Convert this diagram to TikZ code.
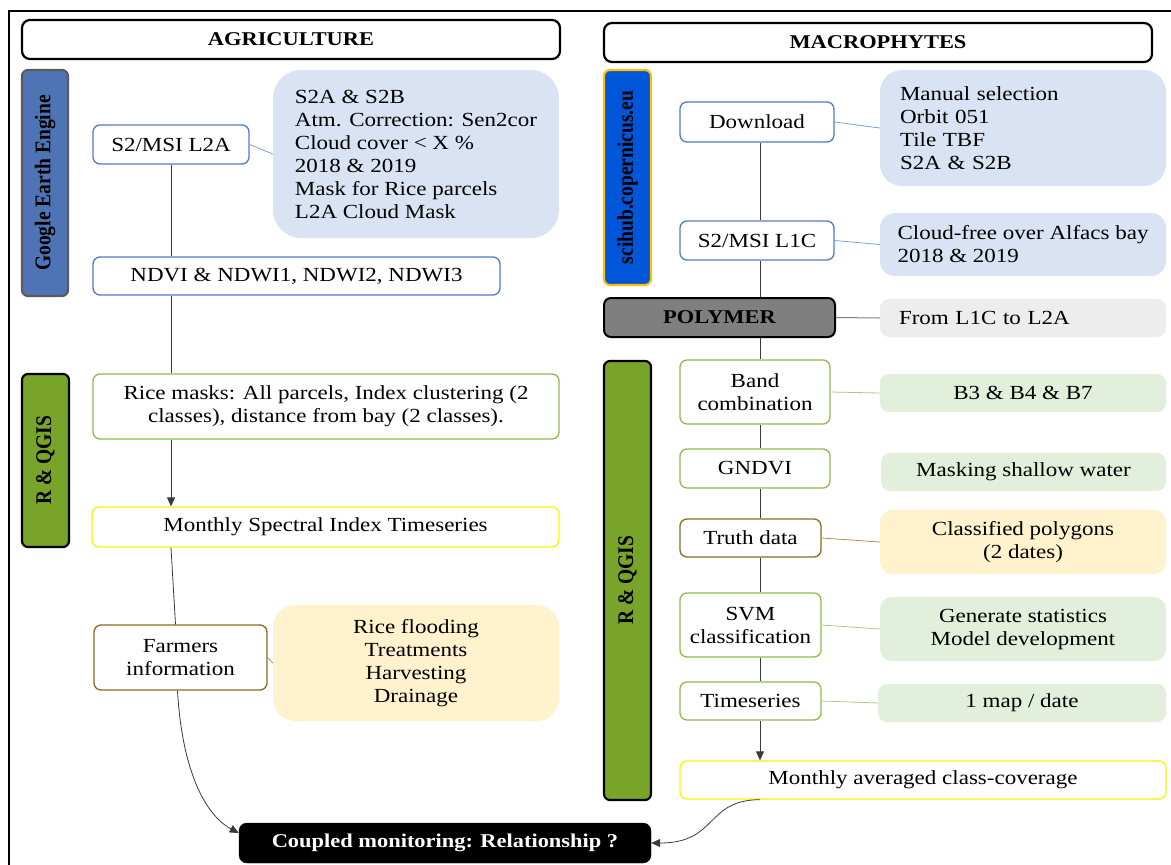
\documentclass[tikz,border=0pt]{standalone}
\usepackage{fontspec}
\setmainfont{Liberation Serif}[FakeStretch=1.15]
\newfontfamily\rotfont{Liberation Serif}
\usetikzlibrary{arrows.meta}
\definecolor{bbord}{HTML}{4F7BC8}
\definecolor{bfill}{HTML}{DAE3F3}
\definecolor{gbord}{HTML}{8DBB4C}
\definecolor{gfill}{HTML}{E2EFDA}
\definecolor{ybord}{HTML}{FFF200}
\definecolor{yfill}{HTML}{FFF2CC}
\definecolor{brbord}{HTML}{8C6A22}
\definecolor{grayfill}{HTML}{7F7F7F}
\definecolor{lgray}{HTML}{EDEDED}
\definecolor{geefill}{HTML}{4F74B6}
\definecolor{geebord}{HTML}{5A5A5A}
\definecolor{rqfill}{HTML}{79A42A}
\definecolor{scifill}{HTML}{0056D8}
\definecolor{scibord}{HTML}{FFC000}
\definecolor{linec}{HTML}{3A3A3A}
\definecolor{blink}{HTML}{7F9FD5}
\definecolor{glink}{HTML}{A9CC86}
\definecolor{brlink}{HTML}{B0924E}
\newcommand{\vstretch}[1]{\scalebox{1}[1.15]{#1}}
\begin{document}
\begin{tikzpicture}[x=1pt,y=-1pt,
  every node/.style={font=\fontsize{20}{23}\selectfont},
  box/.style={draw, rounded corners=7, fill=white, line width=1.3pt, inner sep=0pt, align=center},
  bluebox/.style={box, draw=bbord},
  greenbox/.style={box, draw=gbord},
  yelbox/.style={box, draw=ybord},
  brownbox/.style={box, draw=brbord},
  info/.style={rounded corners=12, inner sep=0pt, align=center},
  side/.style={rotate=90, rounded corners=6, line width=2.2pt, inner sep=0pt,
    font=\rotfont\fontsize{19.5}{22}\selectfont\bfseries},
  head/.style={draw=black, line width=2.2pt, rounded corners=8, inner sep=0pt,
    font=\fontsize{19.5}{22}\selectfont\bfseries},
  link/.style={line width=0.8pt, draw=linec},
  arr/.style={link, -{Triangle[width=8pt,length=9pt]}}
]
\useasboundingbox (0,0) rectangle (1171,865);
% frame
\draw[line width=1.5pt] (1171,11) -- (9,11) -- (9,865);

% headers
\node[head, minimum width=538, minimum height=39] (agri) at (291,39.5) {AGRICULTURE};
\node[head, minimum width=548, minimum height=39] (macro) at (878,42.5) {MACROPHYTES};

% sidebars
\node[side, draw=geebord, fill=geefill, minimum width=226, minimum height=46] (gee) at (45,183) {\vstretch{Google Earth Engine}};
\node[side, draw=black, fill=rqfill, minimum width=173, minimum height=47] (rq1) at (45.5,460.5) {\vstretch{R \& QGIS}};
\node[side, draw=scibord, fill=scifill, minimum width=215, minimum height=47] (sci) at (627.5,177.5) {\vstretch{scihub.copernicus.eu}};
\node[side, draw=black, fill=rqfill, minimum width=439, minimum height=47] (rq2) at (627.5,580.5) {\vstretch{R \& QGIS}};

% left column
\node[bluebox, minimum width=156, minimum height=39] (l2a) at (171,144.5) {S2/MSI L2A};
\node[info, fill=bfill, rounded corners=28, minimum width=286, minimum height=168,
  align=left] (info1) at (416,154)
  {S2A \& S2B\\Atm. Correction: Sen2cor\\Cloud cover < X \%\\2018 \& 2019\\Mask for Rice parcels\\L2A Cloud Mask};
\node[bluebox, minimum width=407, minimum height=38] (ndvi) at (296.5,276) {NDVI \& NDWI1, NDWI2, NDWI3};
\node[greenbox, minimum width=466, minimum height=65] (rice) at (326,406.5)
  {Rice masks: All parcels, Index clustering (2\\classes), distance from bay (2 classes).};
\node[yelbox, minimum width=467, minimum height=40] (mon1) at (325.5,527) {Monthly Spectral Index Timeseries};
\node[brownbox, minimum width=173, minimum height=65] (farm) at (180.5,657.5) {Farmers\\information};
\node[info, fill=yfill, rounded corners=22, minimum width=286, minimum height=116] (info2) at (416,663)
  {Rice flooding\\Treatments\\Harvesting\\Drainage};
\node[draw=black, fill=black, rounded corners=8, minimum width=412, minimum height=40, inner sep=0pt,
  text=white, font=\fontsize{19.5}{22}\selectfont\bfseries] (coupled) at (445,843)
  {Coupled monitoring: Relationship ?};

% right column
\node[bluebox, minimum width=154, minimum height=40] (down) at (757,122) {Download};
\node[info, fill=bfill, rounded corners=22, minimum width=286, minimum height=116,
  text width=246, inner xsep=20pt, align=left] (info3) at (1023,128)
  {Manual selection\\Orbit 051\\Tile TBF\\S2A \& S2B};
\node[bluebox, minimum width=154, minimum height=39] (l1c) at (757,240.5) {S2/MSI L1C};
\node[info, fill=bfill, rounded corners=15, minimum width=286, minimum height=63,
  align=left] (info4) at (1023,244.5)
  {Cloud-free over Alfacs bay\\2018 \& 2019};
\node[draw=black, fill=grayfill, line width=2pt, rounded corners=7, minimum width=231, minimum height=39,
  inner sep=0pt, font=\fontsize{19.5}{22}\selectfont\bfseries] (poly) at (719.5,317.5) {POLYMER};
\node[info, fill=lgray, rounded corners=9, minimum width=286, minimum height=38,
  text width=264, inner xsep=11pt, align=left] (info5) at (1023,318) {\hspace*{8pt}From L1C to L2A};
\node[greenbox, minimum width=150, minimum height=64] (band) at (755,392) {Band\\combination};
\node[info, fill=gfill, rounded corners=9, minimum width=286, minimum height=38] (info6) at (1023,393) {B3 \& B4 \& B7};
\node[greenbox, minimum width=150, minimum height=39] (gndvi) at (755,468.5) {GNDVI};
\node[info, fill=gfill, rounded corners=9, minimum width=285, minimum height=38] (info7) at (1023.5,472) {Masking shallow water};
\node[brownbox, minimum width=141, minimum height=38] (truth) at (750.5,538) {Truth data};
\node[info, fill=yfill, rounded corners=12, minimum width=286, minimum height=64] (info8) at (1023,542) {Classified polygons\\(2 dates)};
\node[greenbox, minimum width=141, minimum height=64] (svm) at (750.5,625) {SVM\\classification};
\node[info, fill=gfill, rounded corners=12, minimum width=286, minimum height=64] (info9) at (1023,629) {Generate statistics\\Model development};
\node[greenbox, minimum width=141, minimum height=38] (ts) at (750.5,701) {Timeseries};
\node[info, fill=gfill, rounded corners=9, minimum width=288, minimum height=38] (info10) at (1022,703) {1 map / date};
\node[yelbox, minimum width=486, minimum height=38] (mon2) at (923,780) {Monthly averaged class-coverage};

% left spine
\draw[link] (l2a.south) -- (l2a.south |- ndvi.north);
\draw[link] (l2a.south |- ndvi.south) -- (l2a.south |- rice.north);
\draw[arr] (l2a.south |- rice.south) -- (l2a.south |- mon1.north);
\draw[link] (l2a.south |- mon1.south) -- ([xshift=-5pt]farm.north);
\draw[arr] ([xshift=-3pt]farm.south) .. controls (182,770) and (205,815) .. ([yshift=10pt]coupled.west);

% left side links
\draw[line width=0.8pt, draw=blink] (l2a.east) -- (info1.west);
\draw[line width=0.8pt, draw=brlink] (farm.east) -- (info2.west);

% right spine
\coordinate (rsp) at (760,0);
\draw[link] (rsp |- down.south) -- (rsp |- l1c.north);
\draw[link] (rsp |- l1c.south) -- (rsp |- poly.north);
\draw[link] (rsp |- poly.south) -- (rsp |- band.north);
\draw[link] (rsp |- band.south) -- (rsp |- gndvi.north);
\draw[link] (rsp |- gndvi.south) -- (rsp |- truth.north);
\draw[link] (rsp |- truth.south) -- (rsp |- svm.north);
\draw[link] (rsp |- svm.south) -- (rsp |- ts.north);
\draw[arr] (rsp |- ts.south) -- (rsp |- mon2.north);
\draw[arr] (rsp |- mon2.south) .. controls (705,800) and (718,843) .. (coupled.east);

% right side links
\draw[line width=0.8pt, draw=blink] (down.east) -- (info3.west);
\draw[line width=0.8pt, draw=blink] (l1c.east) -- (info4.west);
\draw[line width=1pt, draw=grayfill] (poly.east) -- (info5.west);
\draw[line width=0.8pt, draw=glink] (band.east) -- (info6.west);
\draw[line width=0.8pt, draw=brlink] (truth.east) -- (info8.west);
\draw[line width=0.8pt, draw=glink] (svm.east) -- (info9.west);
\draw[line width=0.8pt, draw=glink] (ts.east) -- (info10.west);
\end{tikzpicture}
\end{document}
